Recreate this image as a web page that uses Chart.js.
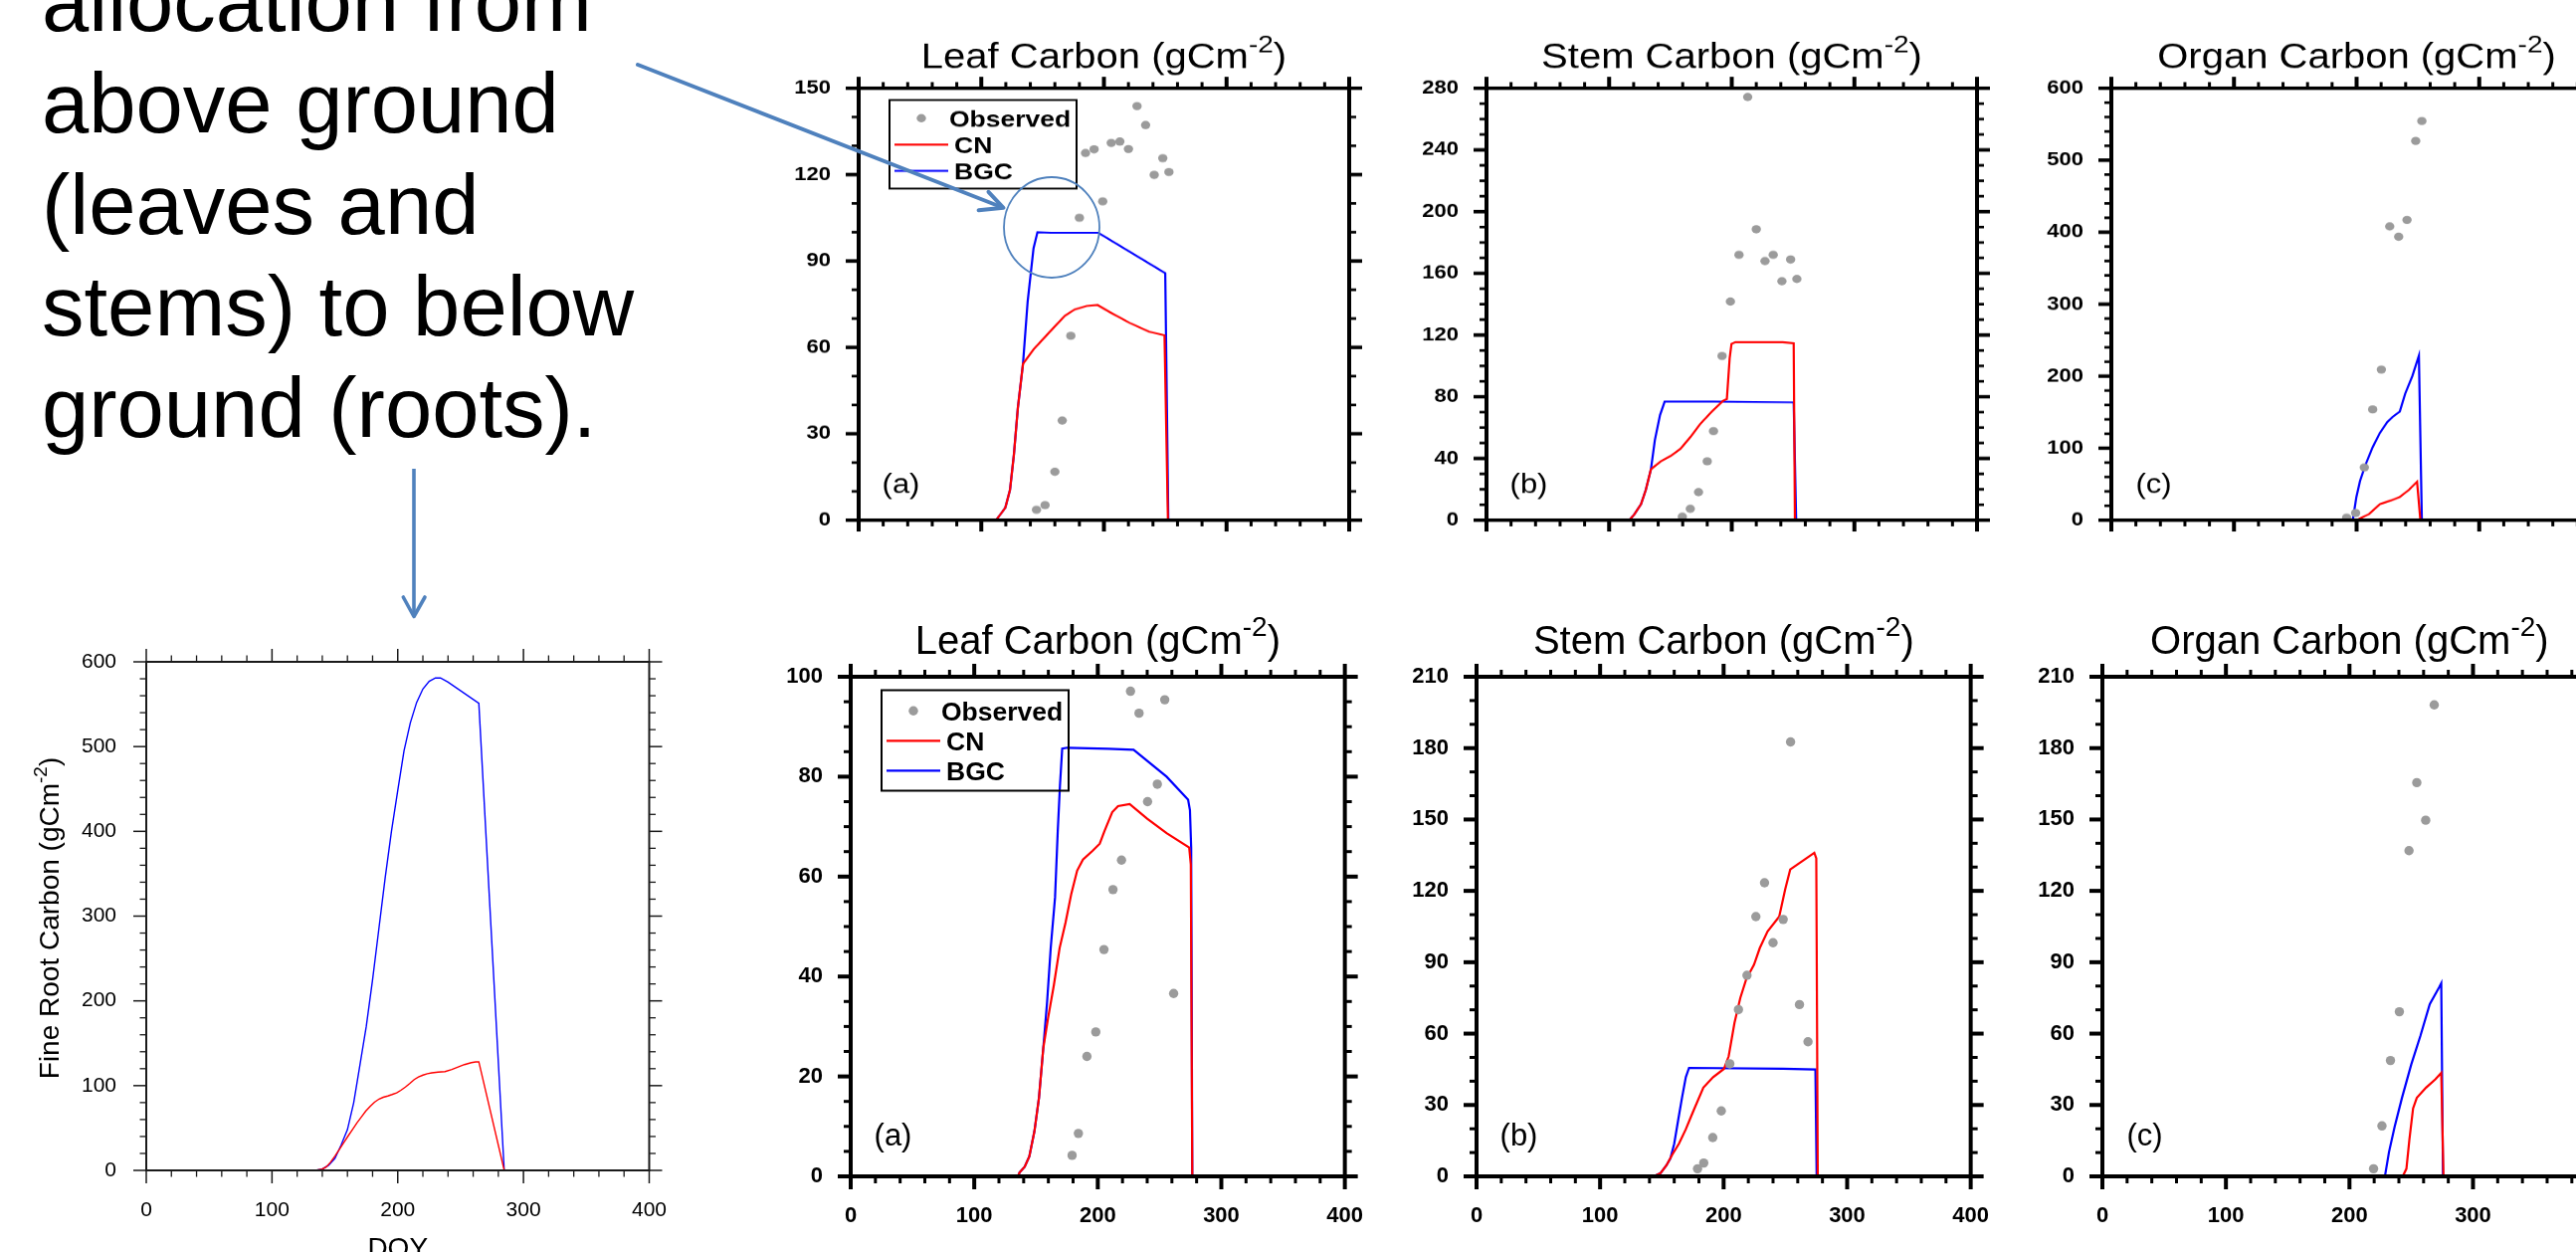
<!DOCTYPE html>
<html><head><meta charset="utf-8"><title>Carbon allocation: leaf, stem, organ and fine root carbon</title>
<script src="https://cdn.jsdelivr.net/npm/chart.js"></script>
<style>
html,body{margin:0;padding:0;background:#fff;}
body{width:2589px;height:1258px;overflow:hidden;position:relative;font-family:"Liberation Sans",Arial,Helvetica,sans-serif;}
.panel{position:absolute;transform-origin:0 0;}
.panel canvas{display:block;}
#note{position:absolute;left:42px;top:-49px;font-size:85px;line-height:102px;color:#000;white-space:nowrap;}
#ann{position:absolute;left:0;top:0;z-index:10;pointer-events:none;}
</style></head><body>
<div id="note">allocation from<br>above ground<br>(leaves and<br>stems) to below<br>ground (roots).</div>
<svg id="ann" width="2589" height="1258" xmlns="http://www.w3.org/2000/svg">
  <line x1="641" y1="65" x2="1005" y2="207.5" stroke="#4F81BD" stroke-width="4" stroke-linecap="round"/>
  <polyline points="993.5,192.8 1008.5,208.8 983.6,211.3" fill="none" stroke="#4F81BD" stroke-width="4" stroke-linecap="round" stroke-linejoin="round"/>
  <ellipse cx="1057" cy="228.5" rx="48" ry="50.5" fill="none" stroke="#4F81BD" stroke-width="1.8"/>
  <line x1="416" y1="471" x2="416" y2="617" stroke="#4F81BD" stroke-width="3.6"/>
  <polyline points="405.3,600 416,619.5 427,600" fill="none" stroke="#4F81BD" stroke-width="3.6" stroke-linecap="round" stroke-linejoin="round"/>
</svg>
<script>
// ---------------- data ----------------
const xTickLabels = [0, 100, 200, 300, 400];

// Top row, panel (a) Leaf Carbon
const leafTopYTicks = [0, 30, 60, 90, 120, 150];
const leafTopObsDoy = [145, 152, 160, 166, 173, 180, 185, 192, 199, 206, 213, 220, 227, 234, 241, 248, 253];
const leafTopObsVal = [3.6, 5.2, 16.8, 34.6, 64, 105, 127.5, 128.8, 110.7, 131, 131.5, 128.9, 143.8, 137.2, 119.9, 125.7, 120.9];
const leafTopCnDoy = [112, 115.4, 119.6, 123.4, 126.6, 129.8, 134, 142.6, 150.6, 158.7, 168.3, 176.3, 185.9, 194.9, 205, 221, 237, 249.4, 252.2];
const leafTopCnVal = [0, 1.9, 4.3, 10.5, 22.8, 38.9, 54.3, 59.3, 63, 66.7, 71, 73.2, 74.4, 74.7, 72.2, 68.5, 65.4, 64.2, 0];
const leafTopBgcDoy = [112, 115.4, 119.6, 123.4, 126.6, 129.8, 134, 137.8, 142.6, 145.8, 157, 195.5, 250, 252.5];
const leafTopBgcVal = [0, 1.9, 4.3, 10.5, 22.8, 38.9, 54.3, 75.9, 94.4, 100, 99.8, 99.8, 85.8, 0];

// Top row, panel (b) Stem Carbon
const stemTopYTicks = [0, 40, 80, 120, 160, 200, 240, 280];
const stemTopObsDoy = [159.7, 166.2, 172.9, 180, 185.1, 192.1, 198.9, 205.9, 213, 220, 227.1, 233.8, 240.9, 248, 253.1];
const stemTopObsVal = [2.3, 7.4, 18.2, 38.1, 57.7, 106.4, 141.7, 172, 274.3, 188.6, 168, 172, 154.9, 169, 156.3];
const stemTopCnDoy = [116.4, 120.3, 126, 129.9, 134.1, 142.1, 150.1, 158.1, 166.2, 174.2, 183.8, 192.8, 196, 198.3, 199.8, 203, 241.5, 250.5, 251.5];
const stemTopCnVal = [0, 3.5, 10.4, 19.6, 33, 38.1, 41.6, 46.2, 53.8, 62.3, 70.4, 77.3, 78.5, 105, 114.3, 115.4, 115.4, 114.7, 0];
const stemTopBgcDoy = [116.4, 120.3, 126, 129.9, 134.1, 137.3, 141.5, 145.3, 185.4, 250.5, 252.5];
const stemTopBgcVal = [0, 3.5, 10.4, 19.6, 33, 51.9, 68.1, 76.9, 76.9, 76.4, 0];

// Top row, panel (c) Organ Carbon
const organTopYTicks = [0, 100, 200, 300, 400, 500, 600];
const organTopObsDoy = [191.9, 199.2, 206.3, 213.1, 220.2, 227, 234.3, 241.1, 248.2, 253.2];
const organTopObsVal = [3.5, 9.9, 73.2, 153.8, 209.2, 408, 393.7, 417, 526.8, 554.5];
const organTopCnDoy = [199.8, 210.1, 219, 227.8, 235.2, 242.6, 249.3, 252];
const organTopCnVal = [0, 8.4, 22.3, 27.2, 32.2, 42, 53.4, 0];
const organTopBgcDoy = [196.9, 199.8, 202.8, 207.2, 213.1, 219, 224.9, 229.3, 235.2, 239.6, 245.5, 250.8, 253.2];
const organTopBgcVal = [0, 32, 54.4, 76.7, 101.4, 121.2, 136, 143.4, 150.9, 175.6, 200.3, 228.5, 0];

// Bottom row, panel (a) Leaf Carbon
const leafBotYTicks = [0, 20, 40, 60, 80, 100];
const leafBotObsDoy = [179.2, 184.3, 191.2, 198.4, 205, 212.3, 219.2, 226.5, 233.4, 240.3, 248.2, 254.2, 261.4];
const leafBotObsVal = [4.2, 8.6, 24, 28.9, 45.4, 57.4, 63.3, 97.1, 92.7, 75, 78.5, 95.4, 36.6];
const leafBotCnDoy = [135.4, 136.7, 140.8, 144.6, 148.7, 152.4, 155.9, 159.7, 164.4, 169.1, 173.9, 178.6, 183.3, 188, 195.9, 201.6, 205.4, 211.7, 216.4, 225.8, 240, 255.7, 274, 275.3, 276.5];
const leafBotCnVal = [0, 0.8, 1.9, 4, 9, 15.7, 25.7, 31.6, 38.2, 45.7, 50.8, 56.6, 61.2, 63.4, 65.2, 66.6, 69.1, 72.9, 74.1, 74.5, 71.6, 68.7, 65.8, 62.4, 0];
const leafBotBgcDoy = [135.4, 136.7, 140.8, 144.6, 148.7, 152.4, 155.9, 159, 161.9, 165.4, 167.6, 169.4, 171.2, 175.4, 208.5, 229, 255.7, 273.1, 274.6, 275.6, 276.5];
const leafBotBgcVal = [0, 0.8, 1.9, 4, 9, 15.7, 25.7, 35, 45.7, 55.8, 69.1, 78.3, 85.6, 85.8, 85.6, 85.4, 80, 75.4, 73.3, 65.8, 0];

// Bottom row, panel (b) Stem Carbon
const stemBotYTicks = [0, 30, 60, 90, 120, 150, 180, 210];
const stemBotObsDoy = [178.9, 183.9, 191.2, 198.1, 205, 212, 218.9, 226.1, 233.1, 240, 248.2, 254.2, 261.4, 268.3];
const stemBotObsVal = [3.2, 5.6, 16.3, 27.5, 47.3, 70.1, 84.5, 109.2, 123.4, 98.2, 108, 182.6, 72.2, 56.6];
const stemBotCnDoy = [143.6, 149, 153.7, 158.4, 163.8, 169.4, 175.7, 183.6, 191.5, 200.3, 204.1, 208.8, 213.5, 218.3, 224.6, 229.3, 235.6, 245, 249.8, 253.9, 273.4, 275, 276.2];
const stemBotCnVal = [0, 1.4, 4.6, 9.1, 13.7, 19.8, 27.7, 37.3, 41.7, 45.2, 50.5, 64.5, 75, 82.9, 89, 96, 103, 109.2, 120.6, 129, 136, 133.7, 0];
const stemBotBgcDoy = [143.6, 149, 153.7, 156.9, 160, 163.1, 166.3, 169.4, 172, 248.2, 274.3, 275.3];
const stemBotBgcVal = [0, 1.4, 4.6, 7.5, 13.7, 23.3, 33, 41.7, 45.6, 45.2, 44.9, 0];

// Bottom row, panel (c) Organ Carbon
const organBotYTicks = [0, 30, 60, 90, 120, 150, 180, 210];
const organBotObsDoy = [219.5, 226.3, 233.2, 240.4, 248.2, 254.5, 261.7, 268.6];
const organBotObsVal = [3.2, 21.2, 48.7, 69.2, 136.9, 165.5, 149.7, 198.2];
const organBotCnDoy = [243.1, 246.1, 248.5, 251.5, 254.5, 262, 269.5, 274.3, 276.1];
const organBotCnVal = [0, 3.2, 15.4, 28.6, 33, 37.3, 40.8, 43.5, 0];
const organBotBgcDoy = [228.7, 232, 236.5, 242.5, 250, 257.5, 265, 272.5, 274.3, 275.7];
const organBotBgcVal = [0, 10.2, 20.7, 33, 47, 59.2, 72.4, 79.4, 81.2, 0];

// Fine Root Carbon
const rootYTicks = [0, 100, 200, 300, 400, 500, 600];
const rootCnDoy = [134.5, 140, 143.2, 146.5, 150.2, 153.5, 157.2, 160.5, 164.2, 167.5, 171.2, 174.5, 178.2, 181.5, 185.2, 188.5, 192.1, 195.5, 199.1, 202.5, 206.1, 209.5, 213.1, 216.5, 220.1, 223.5, 227.1, 232, 237.6, 243, 248, 253, 258.5, 262, 264.5, 284.7];
const rootCnVal = [0, 1.5, 4.2, 9.5, 17.2, 24.5, 32.9, 40.5, 48.6, 56, 63.3, 69.8, 75.8, 80.5, 84.2, 86.3, 87.8, 89.5, 91.5, 94.5, 98.3, 102.5, 107.2, 110.2, 112.4, 114, 115, 116, 116.6, 119, 121.9, 124.8, 127.1, 128, 128.1, 0];
const rootBgcDoy = [134.5, 140, 145, 150, 155, 160, 165, 170, 175, 180, 185, 190, 195, 200, 205, 210, 215, 220, 225, 230, 234, 240, 264.5, 284.7];
const rootBgcVal = [0, 1.5, 6, 14, 30, 48, 80, 125, 170, 225, 285, 345, 400, 448, 495, 528, 552, 568, 577, 581, 581, 576, 551, 0];

// ---------------- drawing helpers ----------------
const FAM = '"Liberation Sans", Arial, Helvetica, sans-serif';
Chart.defaults.font.family = FAM;
const pts = (xs, ys) => xs.map((x, i) => ({x: x, y: ys[i]}));

function drawSup(ctx, parts, cx, baseY, font, supFont, rise) {
  ctx.textBaseline = 'alphabetic'; ctx.textAlign = 'left';
  ctx.font = font; const w1 = ctx.measureText(parts[0]).width; const w3 = ctx.measureText(parts[2]).width;
  ctx.font = supFont; const w2 = ctx.measureText(parts[1]).width;
  let x = cx - (w1 + w2 + w3) / 2;
  ctx.font = font; ctx.fillText(parts[0], x, baseY); x += w1;
  ctx.font = supFont; ctx.fillText(parts[1], x, baseY - rise); x += w2;
  ctx.font = font; ctx.fillText(parts[2], x, baseY);
}

const decorPlugin = {
  id: 'decor',
  afterDraw(chart, args, o) {
    const ctx = chart.ctx, a = chart.chartArea, xs = chart.scales.x, ys = chart.scales.y;
    ctx.save();
    ctx.strokeStyle = o.color; ctx.fillStyle = o.color; ctx.lineCap = 'butt';
    const seg = (x1, y1, x2, y2, w) => { ctx.lineWidth = w; ctx.beginPath(); ctx.moveTo(x1, y1); ctx.lineTo(x2, y2); ctx.stroke(); };
    const isMajor = (s, v) => s.ticks.some(t => Math.abs(t.value - v) < 1e-6);
    const nx = Math.round((xs.max - xs.min) / o.xMinor);
    for (let i = 0; i <= nx; i++) {
      const v = xs.min + i * o.xMinor, p = xs.getPixelForValue(v), m = isMajor(xs, v);
      const L = m ? o.majorLen : o.minorLen, w = m ? o.majorW : o.minorW;
      seg(p, a.bottom, p, a.bottom + L, w); seg(p, a.top, p, a.top - L, w);
    }
    const ny = Math.round((ys.max - ys.min) / o.yMinor);
    for (let i = 0; i <= ny; i++) {
      const v = ys.min + i * o.yMinor, p = ys.getPixelForValue(v), m = isMajor(ys, v);
      const L = m ? o.majorLen : o.minorLen, w = m ? o.majorW : o.minorW;
      seg(a.left, p, a.left - L, p, w); seg(a.right, p, a.right + L, p, w);
    }
    ctx.lineWidth = o.frameW; ctx.strokeRect(a.left, a.top, a.right - a.left, a.bottom - a.top);
    const cx = (a.left + a.right) / 2;
    ctx.fillStyle = '#000';
    if (o.title) drawSup(ctx, o.title, cx, a.top - o.titleGap, o.titleFont, o.supFont, o.supRise);
    if (o.panelLabel) {
      ctx.font = o.labelFont; ctx.textAlign = 'center'; ctx.textBaseline = 'alphabetic';
      ctx.fillText(o.panelLabel, a.left + o.labelDx, a.bottom - o.labelDy);
    }
    if (o.legend) {
      const ds = chart.data.datasets, L0 = a.left, T0 = a.top;
      ctx.strokeStyle = '#000'; ctx.lineWidth = 2; ctx.strokeRect(L0 + 31, T0 + 13.5, 188, 101);
      ctx.fillStyle = ds[0].backgroundColor; ctx.beginPath(); ctx.arc(L0 + 63, T0 + 34.3, 4.7, 0, Math.PI * 2); ctx.fill();
      ctx.strokeStyle = ds[1].borderColor; seg(L0 + 36, T0 + 64.3, L0 + 90, T0 + 64.3, 2.2);
      ctx.strokeStyle = ds[2].borderColor; seg(L0 + 36, T0 + 94.3, L0 + 90, T0 + 94.3, 2.2);
      ctx.fillStyle = '#000'; ctx.font = o.legendFont; ctx.textAlign = 'left'; ctx.textBaseline = 'alphabetic';
      ctx.fillText(ds[0].label, L0 + 91, T0 + 44);
      ctx.fillText(ds[1].label, L0 + 96, T0 + 74);
      ctx.fillText(ds[2].label, L0 + 96, T0 + 104);
    }
    if (o.yTitle) {
      ctx.save(); ctx.translate(a.left + o.yTitleDx, (a.top + a.bottom) / 2 + o.yTitleDy); ctx.rotate(-Math.PI / 2);
      drawSup(ctx, o.yTitle, 0, 0, o.axTitleFont, o.axSupFont, o.axSupRise);
      ctx.restore();
    }
    if (o.xTitle) {
      ctx.font = o.axTitleFont; ctx.textAlign = 'center'; ctx.textBaseline = 'alphabetic';
      ctx.fillText(o.xTitle, cx, a.bottom + o.xTitleDy);
    }
    ctx.restore();
  }
};
Chart.register(decorPlugin);

function mountCanvas(left, top, w, h, sy) {
  const div = document.createElement('div');
  div.className = 'panel';
  div.style.left = left + 'px'; div.style.top = top + 'px';
  div.style.width = w + 'px'; div.style.height = h + 'px';
  if (sy !== 1) div.style.transform = 'scaleY(' + sy + ')';
  const c = document.createElement('canvas');
  c.width = w; c.height = h; c.style.width = w + 'px'; c.style.height = h + 'px';
  div.appendChild(c);
  document.body.insertBefore(div, document.getElementById('ann'));
  return c;
}

function nclPanel(p) {
  const padL = 90, padT = 70, padR = 40, padB = 60, W = p.W;
  const cw = padL + W + padR, ch = padT + W + padB;
  const canvas = mountCanvas(p.L - padL, p.T - padT * p.sy, cw, ch, p.sy);
  const tickFont = {family: FAM, size: 22, weight: 'bold'};
  const yT = p.yTicks;
  return new Chart(canvas, {
    type: 'scatter',
    data: {datasets: [
      {label: 'Observed', data: pts(p.obs[0], p.obs[1]), showLine: false, pointRadius: 4.7, pointHoverRadius: 4.7,
       backgroundColor: '#9b9b9b', borderColor: '#9b9b9b', pointBorderWidth: 0, order: 0},
      {label: 'CN', data: pts(p.cn[0], p.cn[1]), showLine: true, borderColor: '#ff0000', backgroundColor: '#ff0000',
       borderWidth: 2.2, pointRadius: 0, fill: false, tension: 0, order: 1},
      {label: 'BGC', data: pts(p.bgc[0], p.bgc[1]), showLine: true, borderColor: '#0000ff', backgroundColor: '#0000ff',
       borderWidth: 2.2, pointRadius: 0, fill: false, tension: 0, order: 2}
    ]},
    options: {
      responsive: false, animation: false, devicePixelRatio: 1, events: [],
      layout: {padding: {left: 0, top: padT, right: padR, bottom: 0}},
      scales: {
        x: {type: 'linear', position: 'bottom', min: xTickLabels[0], max: xTickLabels[xTickLabels.length - 1],
            afterBuildTicks: s => { s.ticks = xTickLabels.map(v => ({value: v})); },
            afterFit: s => { s.height = padB; },
            ticks: {display: p.xLabels, padding: 27, color: '#000', font: tickFont, maxRotation: 0, autoSkip: false},
            grid: {display: false, drawTicks: false}, border: {display: false}},
        y: {type: 'linear', position: 'left', min: yT[0], max: yT[yT.length - 1],
            afterBuildTicks: s => { s.ticks = yT.map(v => ({value: v})); },
            afterFit: s => { s.width = padL; },
            ticks: {padding: 28, color: '#000', font: tickFont, autoSkip: false},
            grid: {display: false, drawTicks: false}, border: {display: false}}
      },
      plugins: {
        legend: {display: false}, tooltip: {enabled: false},
        decor: {
          color: '#000', xMinor: 20, yMinor: p.yMinor, majorLen: 13, minorLen: 7, majorW: 4, minorW: 3, frameW: 4,
          title: p.title, titleGap: 23, supRise: 18,
          titleFont: '40px ' + FAM, supFont: '28px ' + FAM,
          panelLabel: p.label, labelFont: '31px ' + FAM, labelDx: 42.5, labelDy: 31,
          legend: p.legend, legendFont: 'bold 26.5px ' + FAM
        }
      }
    }
  });
}

const topSy = 434 / 493;
nclPanel({L: 863, T: 89, W: 493, sy: topSy, xLabels: false, yTicks: leafTopYTicks, yMinor: 10,
  title: ['Leaf Carbon (gCm', '-2', ')'], label: '(a)', legend: true,
  obs: [leafTopObsDoy, leafTopObsVal], cn: [leafTopCnDoy, leafTopCnVal], bgc: [leafTopBgcDoy, leafTopBgcVal]});
nclPanel({L: 1494, T: 89, W: 493, sy: topSy, xLabels: false, yTicks: stemTopYTicks, yMinor: 10,
  title: ['Stem Carbon (gCm', '-2', ')'], label: '(b)', legend: false,
  obs: [stemTopObsDoy, stemTopObsVal], cn: [stemTopCnDoy, stemTopCnVal], bgc: [stemTopBgcDoy, stemTopBgcVal]});
nclPanel({L: 2122, T: 89, W: 493, sy: topSy, xLabels: false, yTicks: organTopYTicks, yMinor: 20,
  title: ['Organ Carbon (gCm', '-2', ')'], label: '(c)', legend: false,
  obs: [organTopObsDoy, organTopObsVal], cn: [organTopCnDoy, organTopCnVal], bgc: [organTopBgcDoy, organTopBgcVal]});

nclPanel({L: 854.5, T: 680, W: 502, sy: 1, xLabels: true, yTicks: leafBotYTicks, yMinor: 5,
  title: ['Leaf Carbon (gCm', '-2', ')'], label: '(a)', legend: true,
  obs: [leafBotObsDoy, leafBotObsVal], cn: [leafBotCnDoy, leafBotCnVal], bgc: [leafBotBgcDoy, leafBotBgcVal]});
nclPanel({L: 1484, T: 680, W: 502, sy: 1, xLabels: true, yTicks: stemBotYTicks, yMinor: 10,
  title: ['Stem Carbon (gCm', '-2', ')'], label: '(b)', legend: false,
  obs: [stemBotObsDoy, stemBotObsVal], cn: [stemBotCnDoy, stemBotCnVal], bgc: [stemBotBgcDoy, stemBotBgcVal]});
nclPanel({L: 2113, T: 680, W: 502, sy: 1, xLabels: true, yTicks: organBotYTicks, yMinor: 10,
  title: ['Organ Carbon (gCm', '-2', ')'], label: '(c)', legend: false,
  obs: [organBotObsDoy, organBotObsVal], cn: [organBotCnDoy, organBotCnVal], bgc: [organBotBgcDoy, organBotBgcVal]});

// Fine root chart
(function () {
  const padL = 147, padT = 60, padR = 40, padB = 82, W = 511, H = 511;
  const canvas = mountCanvas(0, 665 - padT, padL + W + padR, padT + H + padB, 1);
  const tickFont = {family: FAM, size: 21};
  new Chart(canvas, {
    type: 'scatter',
    data: {datasets: [
      {label: 'CN', data: pts(rootCnDoy, rootCnVal), showLine: true, borderColor: '#ff0000', borderWidth: 1.4,
       pointRadius: 0, fill: false, tension: 0, order: 0},
      {label: 'BGC', data: pts(rootBgcDoy, rootBgcVal), showLine: true, borderColor: '#0000ff', borderWidth: 1.4,
       pointRadius: 0, fill: false, tension: 0, order: 1}
    ]},
    options: {
      responsive: false, animation: false, devicePixelRatio: 1, events: [],
      layout: {padding: {left: 0, top: padT, right: padR, bottom: 0}},
      scales: {
        x: {type: 'linear', position: 'bottom', min: 0, max: 400,
            afterBuildTicks: s => { s.ticks = xTickLabels.map(v => ({value: v})); },
            afterFit: s => { s.height = padB; },
            ticks: {padding: 28, color: '#000', font: tickFont, maxRotation: 0, autoSkip: false},
            grid: {display: false, drawTicks: false}, border: {display: false}},
        y: {type: 'linear', position: 'left', min: 0, max: 600,
            afterBuildTicks: s => { s.ticks = rootYTicks.map(v => ({value: v})); },
            afterFit: s => { s.width = padL; },
            ticks: {padding: 30, color: '#000', font: tickFont, autoSkip: false},
            grid: {display: false, drawTicks: false}, border: {display: false}}
      },
      plugins: {
        legend: {display: false}, tooltip: {enabled: false},
        decor: {
          color: '#1a1a1a', xMinor: 20, yMinor: 20, majorLen: 13, minorLen: 6.5, majorW: 1.5, minorW: 1.3, frameW: 2,
          yTitle: ['Fine Root Carbon (gCm', '-2', ')'], yTitleDx: -88, yTitleDy: 2,
          xTitle: 'DOY', xTitleDy: 87,
          axTitleFont: '28px ' + FAM, axSupFont: '19px ' + FAM, axSupRise: 12
        }
      }
    }
  });
})();
</script>
</body></html>
